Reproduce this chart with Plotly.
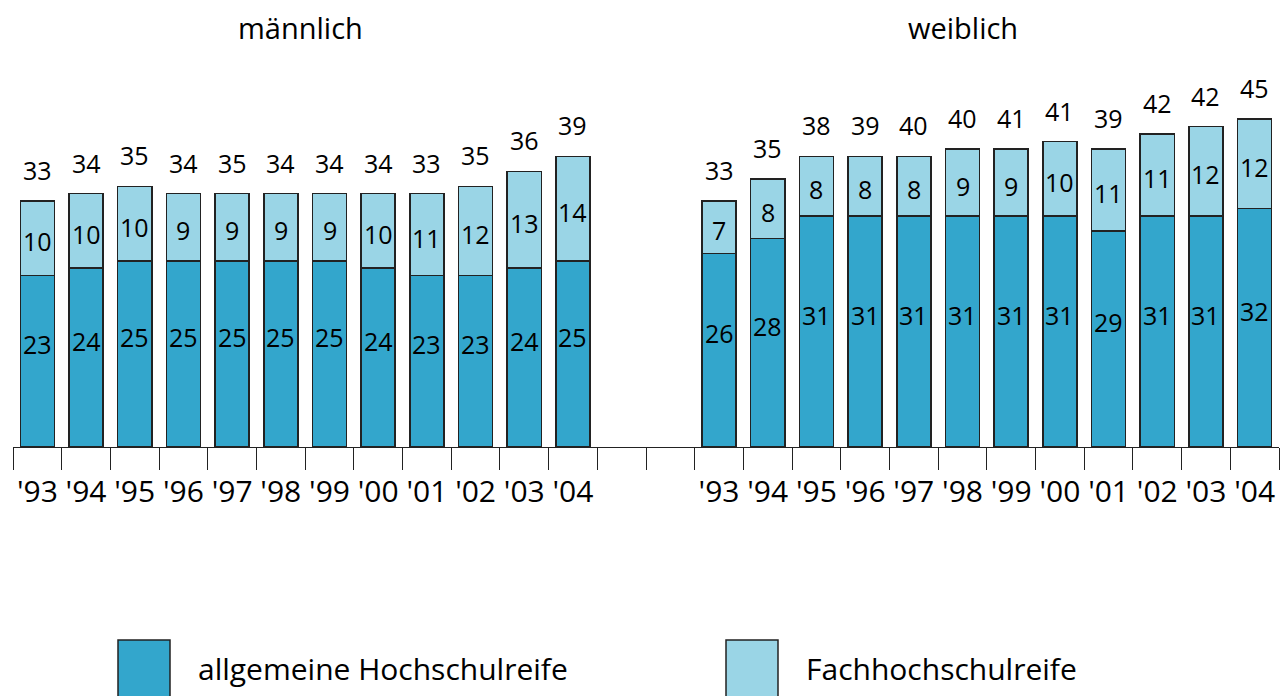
import plotly.graph_objs as go

# data
years = ["'93", "'94", "'95", "'96", "'97", "'98", "'99", "'00", "'01", "'02", "'03", "'04"]
m_allg = [23, 24, 25, 25, 25, 25, 25, 24, 23, 23, 24, 25]
m_fach = [10, 10, 10, 9, 9, 9, 9, 10, 11, 12, 13, 14]
m_total = [33, 34, 35, 34, 35, 34, 34, 34, 33, 35, 36, 39]
w_allg = [26, 28, 31, 31, 31, 31, 31, 31, 29, 31, 31, 32]
w_fach = [7, 8, 8, 8, 8, 9, 9, 10, 11, 11, 12, 12]
w_total = [33, 35, 38, 39, 40, 40, 41, 41, 39, 42, 42, 45]
groups = ["männlich", "weiblich"]
series_names = ["allgemeine Hochschulreife", "Fachhochschulreife"]

DARK = "#33a6cc"
LIGHT = "#9ad5e6"
FONT = "Open Sans"

W, H = 1281, 696
ML, MR, MT, MB = 13, 2, 60, 249
GAP = 2  # empty slots between the groups

n = len(years)
x_m = list(range(n))
x_w = [i + n + GAP for i in range(n)]
xs = x_m + x_w
allg = m_allg + w_allg
fach = m_fach + w_fach
totals = m_total + w_total
nslots = 2 * n + GAP

plot_h = H - MT - MB
ymax = plot_h / 7.45


def px_x(p):
    return (p - ML) / (W - ML - MR)


def px_y(p):
    return (H - MB - p) / plot_h


fig = go.Figure()
fig.add_trace(go.Bar(
    x=xs, y=allg, name=series_names[0], width=0.7,
    marker=dict(color=DARK, line=dict(color="#222", width=1.5)),
    showlegend=False,
))
fig.add_trace(go.Bar(
    x=xs, y=fach, name=series_names[1], width=0.7,
    marker=dict(color=LIGHT, line=dict(color="#222", width=1.5)),
    showlegend=False,
))

ann = []
for x, a, f, t in zip(xs, allg, fach, totals):
    ann.append(dict(x=x, y=a / 2, text=str(a), showarrow=False, yshift=17,
                    font=dict(size=25, color="black", family=FONT)))
    ann.append(dict(x=x, y=a + f / 2, text=str(f), showarrow=False, yshift=-3,
                    font=dict(size=25, color="black", family=FONT)))
    ann.append(dict(x=x, y=a + f, text=str(t), showarrow=False, yanchor="bottom", yshift=12,
                    font=dict(size=25, color="black", family=FONT)))

# group titles
for label, cx in [(groups[0], 300), (groups[1], 963)]:
    ann.append(dict(xref="paper", yref="paper", x=px_x(cx), y=px_y(28), text=label,
                    xanchor="center", yanchor="middle", showarrow=False,
                    font=dict(size=29, color="black", family=FONT)))

# legend built from shapes + text
shapes = []
for x0, col, label in [(118, DARK, series_names[0]), (726, LIGHT, series_names[1])]:
    shapes.append(dict(type="rect", xref="paper", yref="paper",
                       x0=px_x(x0), x1=px_x(x0 + 52), y0=px_y(700), y1=px_y(640),
                       fillcolor=col, line=dict(color="#222", width=1.5)))
    ann.append(dict(xref="paper", yref="paper", x=px_x(x0 + 78), y=px_y(668),
                    xanchor="left", yanchor="middle", text=label, showarrow=False,
                    font=dict(size=30, color="black", family=FONT)))

fig.update_layout(
    width=W, height=H,
    barmode="stack",
    plot_bgcolor="white", paper_bgcolor="white",
    margin=dict(l=ML, r=MR, t=MT, b=MB),
    annotations=ann,
    shapes=shapes,
    xaxis=dict(
        range=[-0.5, nslots - 0.5],
        tickvals=xs, ticktext=years + years,
        ticks="outside", ticklen=18, tickcolor="rgba(0,0,0,0)",
        tickfont=dict(size=30, color="black", family=FONT),
        showline=True, linecolor="#222", linewidth=1,
        showgrid=False, zeroline=False,
        minor=dict(tick0=-0.5, dtick=1, ticks="outside", ticklen=22,
                   tickcolor="#222", tickwidth=1, showgrid=False),
    ),
    yaxis=dict(range=[0, ymax], visible=False, showgrid=False),
)

fig.write_html("out.html", config={"displayModeBar": False},
               post_script="document.body.style.margin='0';")
